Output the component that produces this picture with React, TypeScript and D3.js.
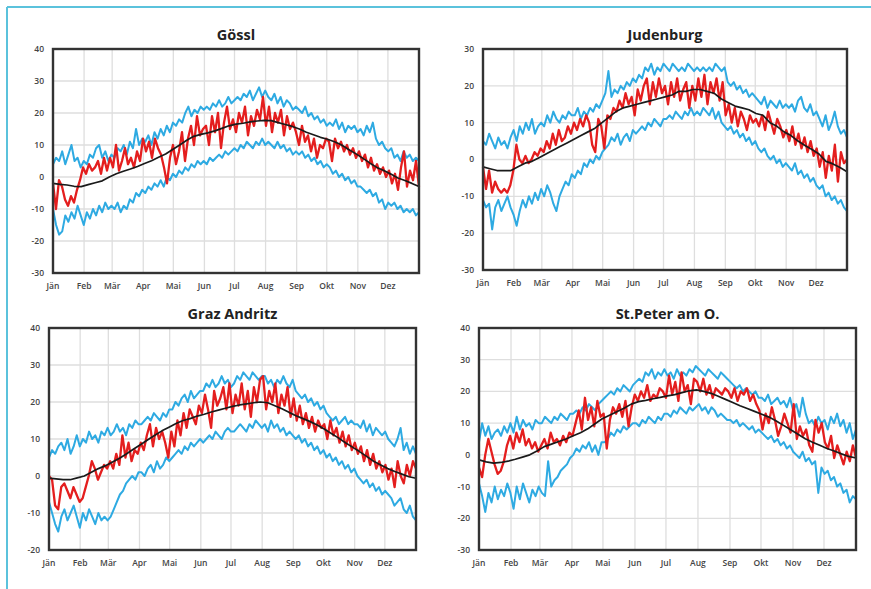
import React from "react";
import * as d3 from "d3";

// month labels and the day of year each month starts
const MONTHS = ["Jän", "Feb", "Mär", "Apr", "Mai", "Jun", "Jul", "Aug", "Sep", "Okt", "Nov", "Dez"];
const MONTH_START = [0, 31, 59, 90, 120, 151, 181, 212, 243, 273, 304, 334];

// Gössl
const gosslHi = [
  4, 6, 5, 8, 4, 7, 10, 5, 6, 3,
  5, 4, 7, 6, 9, 10, 6, 8, 5, 7,
  6, 9, 8, 10, 7, 11, 9, 15, 10, 12,
  11, 13, 10, 14, 12, 15, 13, 16, 14, 17,
  16, 18, 17, 20, 22, 19, 21, 20, 22, 21,
  22, 21, 23, 22, 24, 22, 23, 25, 23, 24,
  25, 24, 26, 25, 27, 24, 26, 28, 25, 27,
  25, 24, 26, 23, 25, 22, 24, 23, 21, 22,
  21, 20, 22, 19, 20, 18, 19, 17, 18, 16,
  17, 16, 18, 15, 17, 14, 16, 15, 16, 14,
  15, 13, 16, 14, 17, 12, 10, 11, 9, 8,
  9, 6, 7, 5, 8, 6, 7, 5, 6, 5,
];
const gosslLo = [
  -10, -15, -18, -17, -12, -14, -11, -13, -9, -12,
  -15, -11, -13, -10, -12, -9, -11, -8, -10, -9,
  -10, -8, -11, -9, -10, -7, -8, -5, -6, -4,
  -5, -3, -4, -2, -3, -1, -3, 0, -1, 1,
  0, 2, 1, 3, 2, 4, 3, 5, 4, 5,
  4, 6, 5, 6, 7, 6, 8, 7, 8, 9,
  8, 10, 9, 11, 10, 9, 11, 10, 12, 10,
  11, 10, 9, 11, 9, 10, 8, 9, 7, 8,
  7, 8, 6, 7, 5, 6, 4, 5, 3, 4,
  3, 1, 2, 0, 1, -1, 0, -2, -1, -3,
  -3, -4, -5, -4, -6, -5, -8, -7, -10, -8,
  -9, -8, -10, -9, -11, -10, -11, -10, -12, -11,
];
const gosslRed = [
  -2, -10, -1, -3, -7, -9, -6, -8, -4, -1,
  3, 1, 4, 2, 3, 5, 1, 6, 2, 6,
  3, 10, 2, 5, 9, 4, 6, 3, 8, 5,
  12, 8, 11, 6, 12, 9, 7, 3, -2, 6, 10,
  4, 8, 14, 5, 12, 16, 10, 19, 13, 15,
  16, 10, 19, 14, 20, 9, 17, 22, 15, 18,
  14, 20, 17, 22, 13, 19, 16, 21, 18, 25,
  16, 22, 14, 20, 17, 21, 13, 19, 15, 17,
  14, 10, 16, 11, 13, 8, 12, 6, 10, 9, 12,
  11, 5, 12, 9, 11, 8, 10, 7, 9, 6,
  8, 5, 7, 3, 6, 2, 4, 1, 3, 0,
  2, -2, 1, -4, 3, 8, -3, 2, -1, 5, -3,
];
const gosslMean = [
  -2, -2.3, -2.5, -2.9, -3, -2.4, -1.8, -1.2, 0, 1, 1.8, 2.5, 3.3, 4.2, 5.1, 6.2, 7.2, 8.6,
  10, 11.5, 12.7, 13.3, 13.8, 14.4, 15.2, 16, 16.5, 16.8, 17.2, 17.5, 17.7, 17.6, 17, 16.4,
  15.8, 15, 14, 13.2, 12.4, 11.8, 11, 10, 8.6, 7.3, 5.9, 4.4, 3, 2, 0.9, -0.3, -1.1, -2, -3,
];

// Judenburg
const judHi = [
  5, 4, 7, 5, 3, 6, 4, 5, 3, 6,
  8, 5, 9, 7, 10, 8, 11, 7, 9, 10,
  9, 12, 10, 13, 11, 10, 12, 11, 13, 12,
  12, 14, 11, 13, 12, 14, 13, 15, 14, 16,
  18, 24, 17, 19, 18, 20, 19, 21, 20, 22,
  21, 23, 22, 25, 24, 26, 23, 25, 24, 26,
  25, 24, 26, 25, 24, 25, 24, 26, 25, 24,
  25, 24, 25, 24, 25, 24, 26, 25, 24, 25,
  21, 20, 21, 19, 20, 18, 19, 17, 18, 17,
  16, 15, 17, 14, 16, 15, 14, 16, 14, 15,
  14, 15, 13, 16, 17, 14, 13, 15, 12, 13,
  11, 9, 12, 8, 10, 13, 9, 7, 8, 6,
];
const judLo = [
  -11, -13, -12, -19, -13, -11, -14, -12, -10, -13,
  -15, -18, -14, -11, -13, -10, -12, -9, -11, -8,
  -10, -7, -9, -12, -14, -10, -8, -6, -7, -4,
  -5, -3, -4, -1, -2, 0, -1, 1, 0, 2,
  3, 4, 6, 5, 7, 4, 6, 7, 5, 8,
  7, 8, 9, 8, 10, 9, 11, 10, 9, 11,
  11, 12, 11, 13, 12, 11, 13, 12, 14, 12,
  13, 12, 14, 13, 12, 14, 11, 13, 10, 9,
  8, 9, 7, 8, 6, 7, 5, 6, 4, 5,
  3, 2, 3, 1, 0, 1, -1, 0, -2, -1,
  -2, -3, -1, -4, -3, -5, -4, -6, -5, -7,
  -8, -7, -10, -9, -11, -10, -12, -11, -13, -14,
];
const judRed = [
  -2, -8, -3, -9, -6, -8, -9, -8, -9, -7,
  -3, 4, 0, -1, 1, -1, 0, 2, 1, 3,
  2, 5, 3, 7, 4, 8, 5, 6, 9, 7,
  10, 8, 11, 9, 12, 10, 4, 2, 11, 9,
  3, 12, 11, 14, 13, 16, 14, 18, 15, 17,
  12, 19, 16, 20, 22, 15, 21, 17, 22, 18,
  20, 15, 21, 17, 22, 16, 19, 21, 14, 20,
  16, 22, 17, 23, 15, 21, 18, 22, 16, 21,
  12, 15, 10, 14, 9, 13, 11, 8, 12, 10,
  11, 9, 12, 8, 13, 10, 7, 11, 9, 6,
  8, 5, 9, 4, 7, 3, 6, 2, 5, 1,
  3, -2, 2, -5, 1, -3, 4, -6, 2, -1, 0,
];
const judMean = [
  -2, -2.5, -3, -3, -3, -2, -1, -0.5, 0.5, 1.5, 2.5, 3.5, 4.5, 5.5, 6.5, 7.5, 8.5, 10,
  11.5, 13, 14, 14.5, 15, 15.5, 16, 16.5, 17, 17.5, 18.5, 18.5, 19, 19, 18.5, 18, 16.5,
  15.5, 14.5, 14, 13.5, 12.5, 12, 10, 9, 7.5, 6.5, 5, 3.8, 2.7, 1.5, -0.5, -1.2, -2.2, -3.3,
];

// Graz Andritz
const grazHi = [
  5, 7, 6, 8, 9, 7, 10, 6, 8, 11,
  8, 10, 9, 12, 10, 11, 9, 12, 11, 13,
  11, 12, 14, 12, 13, 11, 14, 13, 15, 14,
  14, 15, 16, 15, 17, 16, 15, 17, 16, 18,
  18, 20, 19, 21, 22, 20, 23, 21, 22, 23,
  23, 25, 24, 26, 24, 25, 27, 25, 26, 24,
  25, 27, 26, 28, 27, 26, 28, 27, 26, 27,
  27, 25, 26, 24, 26, 25, 27, 25, 24, 26,
  23, 22, 21, 22, 20, 21, 19, 20, 18, 19,
  17, 16, 15, 16, 14, 15, 16, 14, 15, 14,
  14, 13, 15, 12, 14, 11, 13, 12, 11, 12,
  10, 9, 8, 10, 13, 7, 9, 6, 8, 6,
];
const grazLo = [
  -7, -10, -13, -15, -11, -9, -12, -10, -8, -11,
  -14, -10, -12, -9, -11, -13, -10, -12, -11, -12,
  -11, -9, -7, -5, -4, -2, -1, 0, -1, 1,
  1, 0, 2, 3, 1, 4, 2, 3, 5, 4,
  5, 6, 7, 6, 8, 7, 9, 8, 9, 10,
  9, 10, 11, 10, 12, 11, 10, 12, 13, 12,
  12, 13, 14, 13, 12, 14, 13, 15, 14, 13,
  14, 12, 15, 13, 14, 12, 13, 11, 12, 11,
  10, 11, 9, 10, 8, 9, 7, 8, 6, 7,
  5, 6, 4, 5, 3, 4, 2, 3, 1, 2,
  0, -1, -2, -1, -3, -2, -4, -3, -5, -4,
  -5, -6, -8, -7, -6, -9, -10, -8, -11, -12,
];
const grazRed = [
  0, -1, -8, -9, -3, -2, -4, -6, -3, -5,
  -7, -6, -3, 0, 4, 2, -1, 1, 3, 2,
  4, 2, 6, 3, 11, 5, 9, 4, 7, 6,
  9, 7, 11, 14, 8, 13, 10, 12, 9, 5,
  12, 8, 15, 11, 17, 13, 18, 16, 14, 19,
  17, 22, 18, 13, 23, 19, 21, 24, 18, 25,
  17, 22, 19, 25, 18, 23, 16, 24, 20, 26,
  27, 18, 23, 20, 25, 17, 22, 19, 24, 16,
  21, 15, 19, 14, 17, 13, 16, 12, 15, 13,
  14, 10, 15, 11, 13, 9, 12, 8, 11, 7,
  9, 6, 8, 4, 7, 3, 6, 2, 4, 1,
  3, -1, 2, -3, 4, 0, -2, 3, 0, 4, 2,
];
const grazMean = [
  -0.6, -0.8, -1, -1, -0.5, 0, 1, 2, 2.8, 3.8, 4.8, 6, 7.3, 8.5, 9.8, 11, 12.2, 13.2, 14.2,
  15, 15.5, 16.2, 16.7, 17.3, 17.8, 18.3, 18.8, 19.2, 19.5, 19.8, 20, 19.8, 19, 18.2, 17.2,
  16.3, 15.5, 14.7, 13.8, 12.7, 11.5, 10.3, 9, 7.8, 6.6, 5.3, 4, 3, 2, 1.2, 0.5, -0.2, -0.6,
];

// St.Peter am O.
const peterHi = [
  4, 10, 6, 9, 5, 7, 8, 6, 9, 7,
  10, 7, 12, 8, 11, 9, 10, 8, 11, 10,
  10, 12, 11, 10, 12, 11, 13, 12, 11, 13,
  13, 14, 13, 15, 14, 16, 15, 14, 16, 17,
  18, 19, 20, 19, 21, 20, 22, 21, 20, 22,
  23, 24, 23, 26, 25, 27, 24, 26, 25, 27,
  25, 26, 24, 27, 25, 26, 25, 27, 26, 28,
  27, 26, 25, 27, 26, 25, 24, 26, 25, 24,
  23, 22, 21, 22, 20, 21, 20, 19, 20, 18,
  18, 17, 19, 16, 17, 18, 16, 17, 15, 18,
  14, 16, 12, 18, 13, 10, 11, 9, 12, 10,
  11, 8, 12, 10, 13, 9, 11, 7, 10, 5, 8,
];
const peterLo = [
  -9, -13, -18, -12, -15, -10, -14, -11, -13, -9,
  -12, -17, -10, -14, -9, -12, -15, -11, -13, -10,
  -12, -13, -2, -10, -8, -7, -5, -4, -3, -1,
  0, 2, 1, 3, 2, 4, 1, 3, 0, 4,
  4, 5, 7, 6, 8, 7, 9, 8, 9, 10,
  10, 9, 11, 10, 12, 11, 10, 12, 11, 13,
  13, 12, 14, 13, 15, 14, 13, 15, 14, 15,
  16, 14, 15, 13, 15, 14, 12, 13, 12, 11,
  11, 10, 11, 9, 10, 9, 8, 9, 7, 8,
  7, 6, 5, 6, 4, 5, 3, 4, 2, 3,
  1, 0, -1, 1, -2, -1, -3, -2, -12, -4,
  -6, -5, -8, -7, -10, -9, -12, -11, -15, -13, -14,
];
const peterRed = [
  -4, -7, 0, 5, 1, -3, -6, -5, -2, 3,
  6, 2, 7, 4, 8, 3, 5, 2, 4, 1,
  3, 5, 2, 7, 4, 5, 3, 6, 4, 7,
  6, 10, 14, 8, 18, 11, 15, 9, 17, 12,
  13, 2, 11, 15, 13, 16, 12, 17, 9, 15,
  19, 17, 20, 18, 22, 17, 19, 18, 21, 20,
  18, 25, 19, 23, 17, 26, 20, 22, 16, 24,
  23, 20, 24, 19, 22, 18, 21, 20, 19, 21,
  20, 18, 21, 17, 20, 19, 21, 17, 19, 16,
  14, 8, 13, 10, 15, 11, 6, 9, 13, 10,
  7, 16, 5, 9, 6, 8, 3, 1, 11, 7,
  10, 4, 2, 6, -1, 3, 0, -3, 1, -2, 3, -1,
];
const peterMean = [
  -1.6, -2.2, -2.6, -2.4, -2, -1.4, -0.7, 0, 1.2, 2.6, 3.4, 4.2, 5, 6, 7, 8.2, 9.8, 11.4,
  12.5, 13.6, 14.7, 16, 16.8, 17.2, 17.7, 18.1, 18.6, 19, 19.6, 20.2, 20.5, 20, 19.4, 18.5,
  17.5, 16.5, 15.5, 14.6, 13.7, 12.8, 11.9, 10.7, 9.3, 7.9, 6.5, 5.1, 4, 3, 2, 1.2, 0.3, -0.5, -1,
];

const FONT = "'Open Sans', 'DejaVu Sans', sans-serif";

type Box = { x: number; y: number; w: number; h: number };

function Panel({ title, box, yDomain, hi, lo, red, mean }: {
  title: string; box: Box; yDomain: [number, number];
  hi: number[]; lo: number[]; red: number[]; mean: number[];
}) {
  const x = d3.scaleLinear().domain([0, 365]).range([box.x, box.x + box.w]);
  const y = d3.scaleLinear().domain(yDomain).range([box.y + box.h, box.y]);
  const yTicks = d3.range(yDomain[0], yDomain[1] + 1, 10);

  // each series spans the whole year, points evenly spread over it
  const path = (arr: number[]) =>
    d3.line<number>()
      .x((_, i) => x((i * 365) / (arr.length - 1)))
      .y((d) => y(d))(arr) as string;

  return (
    <g>
      <text x={box.x + box.w / 2} y={box.y - 9} textAnchor="middle" fontSize={14.5}
        fontWeight={700} fill="#222" fontFamily={FONT}>{title}</text>

      {/* grid */}
      {yTicks.map((t) => (
        <line key={"h" + t} x1={box.x} x2={box.x + box.w} y1={y(t)} y2={y(t)} stroke="#dedede" strokeWidth={1.3} />
      ))}
      {MONTH_START.slice(1).map((d) => (
        <line key={"v" + d} x1={x(d)} x2={x(d)} y1={box.y} y2={box.y + box.h} stroke="#dedede" strokeWidth={1.3} />
      ))}

      {/* series */}
      <path d={path(hi)} fill="none" stroke="#2eaae2" strokeWidth={2} strokeLinejoin="round" />
      <path d={path(lo)} fill="none" stroke="#2eaae2" strokeWidth={2} strokeLinejoin="round" />
      <path d={path(red)} fill="none" stroke="#e41e1e" strokeWidth={2.3} strokeLinejoin="round" />
      <path d={path(mean)} fill="none" stroke="#1a1a1a" strokeWidth={1.7} strokeLinejoin="round" />

      {/* frame */}
      <rect x={box.x} y={box.y} width={box.w} height={box.h} fill="none" stroke="#333" strokeWidth={2.4} />

      {/* y axis labels */}
      {yTicks.map((t) => (
        <text key={"yl" + t} x={box.x - 9} y={y(t)} dy="0.35em" textAnchor="end" fontSize={8.5}
          fontWeight={600} fill="#444" fontFamily={FONT}>{t}</text>
      ))}
      {/* month labels */}
      {MONTHS.map((m, i) => (
        <text key={m} x={x(MONTH_START[i])} y={box.y + box.h + 16} textAnchor="middle" fontSize={8.5}
          fontWeight={600} fill="#444" fontFamily={FONT}>{m}</text>
      ))}
    </g>
  );
}

export default function App() {
  return (
    <svg width={871} height={589} style={{ position: "absolute", left: 0, top: 0, background: "#fff" }}>
      {/* light blue page frame */}
      <line x1={7} x2={871} y1={7} y2={7} stroke="#5bc2dc" strokeWidth={2} />
      <line x1={7} x2={7} y1={7} y2={589} stroke="#5bc2dc" strokeWidth={2} />

      <Panel title="Gössl" box={{ x: 53, y: 49, w: 366, h: 224 }} yDomain={[-30, 40]}
        hi={gosslHi} lo={gosslLo} red={gosslRed} mean={gosslMean} />
      <Panel title="Judenburg" box={{ x: 483, y: 49, w: 364, h: 221 }} yDomain={[-30, 30]}
        hi={judHi} lo={judLo} red={judRed} mean={judMean} />
      <Panel title="Graz Andritz" box={{ x: 49, y: 328, w: 367, h: 222 }} yDomain={[-20, 40]}
        hi={grazHi} lo={grazLo} red={grazRed} mean={grazMean} />
      <Panel title="St.Peter am O." box={{ x: 479, y: 328, w: 377, h: 222 }} yDomain={[-30, 40]}
        hi={peterHi} lo={peterLo} red={peterRed} mean={peterMean} />
    </svg>
  );
}
